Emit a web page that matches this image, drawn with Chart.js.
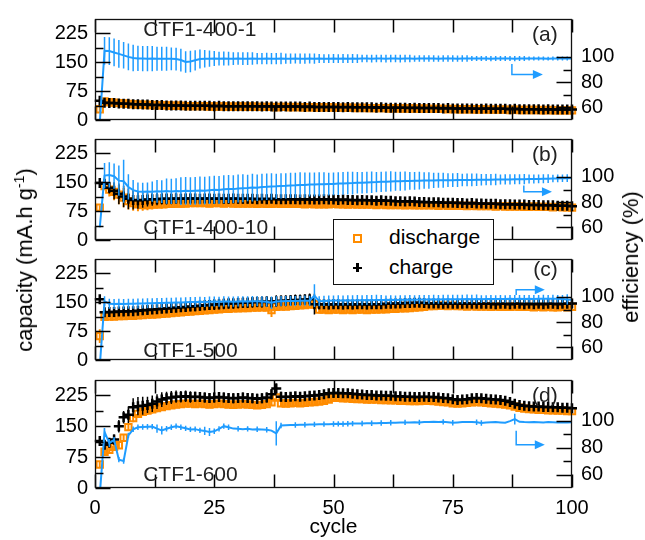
<!DOCTYPE html>
<html><head><meta charset="utf-8">
<script src="https://cdn.jsdelivr.net/npm/chart.js@4.4.0/dist/chart.umd.min.js"></script>
<style>
html,body{margin:0;padding:0;background:#fff;}
#wrap{position:relative;width:645px;height:540px;overflow:hidden;font-family:'Liberation Sans',Arial,sans-serif;}
canvas{position:absolute;left:0;}
.vt{position:absolute;font-size:22px;color:#000;white-space:nowrap;transform:translate(-50%,-50%) rotate(-90deg);line-height:26px;}
.vt sup{font-size:14px;line-height:0;}
#legend{position:absolute;left:333px;top:219px;width:159px;height:64px;border:1px solid #111;background:#fff;z-index:5;}
#legend .lt{position:absolute;left:55px;font-size:21px;line-height:24px;color:#000;}
#legend .sq{position:absolute;left:19px;top:14px;width:9px;height:9px;box-sizing:border-box;border:2px solid #ff8c00;}
#legend .pv{position:absolute;left:22px;top:43px;width:2.5px;height:9px;background:#000;}
#legend .ph{position:absolute;left:18.5px;top:46.5px;width:9px;height:2.5px;background:#000;}
</style></head>
<body><div id="wrap">
<canvas id="ca"></canvas><canvas id="cb"></canvas><canvas id="cc"></canvas><canvas id="cd"></canvas>
<div class="vt" style="left:25px;top:260px">capacity (mA.h g<sup>-1</sup>)</div>
<div class="vt" style="left:631px;top:257px">efficiency (%)</div>
<div id="legend"><div class="sq"></div><div class="lt" style="top:5px">discharge</div><div class="pv"></div><div class="ph"></div><div class="lt" style="top:35px">charge</div></div>
</div>
<script>
const cycles=[1,2,3,4,5,6,7,8,9,10,11,12,13,14,15,16,17,18,19,20,21,22,23,24,25,26,27,28,29,30,31,32,33,34,35,36,37,38,39,40,41,42,43,44,45,46,47,48,49,50,51,52,53,54,55,56,57,58,59,60,61,62,63,64,65,66,67,68,69,70,71,72,73,74,75,76,77,78,79,80,81,82,83,84,85,86,87,88,89,90,91,92,93,94,95,96,97,98,99,100];
const xTicks=[0,25,50,75,100];
const xMinor=[12.5,37.5,62.5,87.5];
const leftTicks=[0,75,150,225];
const leftMinor=[37.5,112.5,187.5];
const rightTicks=[60,80,100];
const rightMinor=[70,90];
const panelNames=['CTF1-400-1','CTF1-400-10','CTF1-500','CTF1-600'];
const panelLetters=['(a)','(b)','(c)','(d)'];

// ---- panel (a) CTF1-400-1 ----
const a_discharge=[28,48,46,45,44,43,42,41,40,40, 39,39,38,38,38,37,37,37,36,36, 36,36,36,35,35,35,35,35,34,35, 35,34,35,34,34,34,34,33,34,34, 33,34,33,33,33,33,32,33,33,32, 32,32,32,32,31,32,31,31,31,31, 31,30,31,30,30,30,30,29,30,29, 29,29,29,28,29,28,28,28,28,27, 28,27,27,27,27,27,26,27,26,26, 26,26,26,25,26,25,25,25,25,25];
const a_dischargeErr=[9,6,6,5,5,5,5,5,5,5, 5,5,5,5,5,4,5,4,5,4, 4,5,4,4,5,4,4,4,5,4, 4,4,5,4,4,4,4,5,4,4, 4,4,4,5,4,4,4,4,4,5, 4,4,4,4,4,5,4,4,4,4, 4,4,5,4,4,4,4,4,5,4, 4,4,4,4,4,4,5,4,4,4, 4,4,4,4,5,4,4,4,4,4, 4,4,4,4,4,4,4,5,4,4];
const a_charge=[50,45,44,44,43,42,42,41,41,40, 40,39,39,39,38,38,38,38,37,37, 37,37,37,37,36,37,36,36,36,36, 36,36,36,36,35,36,35,35,35,35, 35,35,35,34,35,34,34,34,34,34, 34,33,34,33,33,33,33,33,32,33, 32,32,32,32,32,31,32,31,31,31, 31,31,30,31,30,30,30,30,30,29, 29,30,29,29,29,29,28,29,28,28, 28,28,28,27,28,27,27,27,27,27];
const a_chargeErr=[7,6,6,6,6,6,5,5,5,5, 5,6,5,5,5,6,5,5,5,5, 6,5,5,5,5,6,5,5,5,5, 5,6,5,5,5,5,5,6,5,5, 5,5,6,5,5,5,5,5,6,5, 5,5,5,6,5,5,5,5,5,6, 5,5,5,5,6,5,5,5,5,5, 6,5,5,5,5,5,6,5,5,5, 5,6,5,5,5,5,5,6,5,5, 5,5,6,5,5,5,5,5,6,5];
const a_efficiency=[48,104.8,104.6,103.5,102.4,101.2,100,99.1,98.8,98.7, 98.6,98.7,98.6,98.5,98.6,98.5,98.3,97.5,96,96.3, 97.3,98.3,98.5,98.6,98.7,98.6,98.7,98.6,98.6,98.7, 98.6,98.6,98.7,98.6,98.6,98.7,98.6,98.6,98.7,98.6, 98.6,98.7,98.6,98.6,98.7,98.6,98.7,98.6,98.6,98.7, 98.6,98.7,98.6,98.7,98.6,98.7,98.7,98.6,98.7,98.7, 98.6,98.7,98.7,98.6,98.7,98.7,98.6,98.7,98.7,98.7, 98.7,98.6,98.7,98.7,98.7,98.6,98.7,98.7,98.7,98.7, 98.7,98.7,98.6,98.7,98.7,98.7,98.7,98.6,98.7,98.7, 98.7,98.7,98.7,98.7,98.6,98.7,98.7,98.7,98.7,98.7];
const a_efficiencyErr=[0,11,11,11,11,10.5,10.5,10.5,10,10, 10,10,9.5,9.5,9.5,9,9,9,8.5,8.5, 8,7.5,7,6.5,6,5.5,5.5,5.5,5,5, 5,5,5,4.5,4.5,4.5,4.5,4.5,4.5,4, 4,4,4,4,4,4,3.5,3.5,3.5,3.5, 3.5,3.5,3.5,3.5,3.5,3,3,3,3,3, 3,3,3,3,3,3,2.5,2.5,2.5,2.5, 2.5,2.5,2.5,2.5,2.5,2.5,2.5,2.5,2,2, 2,2,2,2,2,2,2,2,2,2, 1.5,1.5,1.5,1.5,1.5,1.5,1.5,1.5,1.5,1.5];

// ---- panel (b) CTF1-400-10 ----
const b_discharge=[84,140,131,125,118,110,101,96,93,91, 91,92,93,93,94,94,95,95,95,96, 96,96,96,95,96,96,95,96,95,95, 95,95,95,94,95,94,94,95,94,94, 94,94,94,93,94,93,93,93,93,94, 93,93,92,93,92,92,92,92,91,92, 91,91,91,91,90,91,90,90,90,90, 90,89,90,89,89,89,89,88,89,88, 88,88,88,87,88,87,87,87,87,86, 86,87,86,86,86,85,86,85,85,84];
const b_dischargeErr=[6,10,18,22,25,25,22,20,18,15, 14,13,12,12,12,11,11,11,10,10, 10,10,10,10,10,10,10,10,10,10, 10,10,10,9,10,9,9,10,9,9, 9,9,9,9,9,9,9,9,8,9, 8,8,8,8,8,8,8,8,8,8, 8,8,8,7,8,7,7,7,7,7, 7,7,7,7,7,7,7,7,7,7, 7,6,7,6,7,6,6,6,6,6, 6,6,6,6,6,6,6,6,6,6];
const b_charge=[148,146,136,128,120,113,107,104,103,104, 105,106,106,107,107,107,108,107,108,108, 108,107,108,108,107,108,107,107,108,107, 107,107,107,106,107,106,107,106,106,106, 106,106,105,106,105,105,105,106,105,105, 104,105,104,104,103,104,103,103,102,103, 102,102,101,101,100,101,100,99,99,98, 98,98,97,97,97,96,96,95,96,95, 95,94,94,94,93,93,93,92,92,92, 91,91,91,90,90,90,89,89,89,88];
const b_chargeErr=[5,8,15,22,27,28,27,25,22,20, 18,17,16,15,15,14,14,13,13,13, 12,12,12,12,12,12,12,12,12,12, 12,12,12,12,11,12,11,11,11,11, 11,11,11,11,11,11,11,10,11,10, 10,10,10,10,10,10,10,10,10,10, 10,10,10,9,10,9,9,9,9,9, 9,9,9,9,9,9,9,9,9,9, 9,8,9,8,9,8,8,8,8,8, 8,8,8,8,8,8,8,8,8,8];
const b_efficiency=[60,101,101.5,100.5,97,96.5,92,89.5,88.5,88.3, 88.5,88.3,88.6,88.4,88.8,88.5,88.9,88.7,89,88.8, 89,89.2,89.1,89.5,89.8,89.7,90.2,90.4,90.3,90.8, 91,91.2,91.5,91.4,92,92.1,92.4,92.5,92.8,92.9, 93.2,93.3,93.6,93.5,93.9,94,94.1,94.2,94.3,94.4, 94.7,94.8,95,95.1,95.3,95.4,95.6,95.8,95.9,96.1, 96.2,96.4,96.5,96.6,96.7,96.8,96.9,97,97.1,97.1, 97.2,97.3,97.3,97.4,97.4,97.5,97.5,97.6,97.6,97.7, 97.7,97.8,97.8,97.9,97.9,98,98,98.1,98.1,98.2, 98.3,98.3,98.4,98.5,98.6,98.7,98.8,98.9,99,99.1];
const b_efficiencyErr=[0,10,10,10,12,17,10,8,7,7, 7,8,9,9,10,10,10,11,11,11, 11,11,11,11,11,11,11,11,11,11, 11,10.5,11,10.5,10.5,10.5,10.5,10,10,10, 10,10,10,10,9.5,9.5,9.5,9.5,9,9, 9,9,9,9,8.5,8.5,8.5,8.5,8,8, 8,8,7.5,7.5,7.5,7,7,7,6.5,6.5, 6,6,6,5.5,5.5,5.5,5,5,5,5, 4.5,4.5,4.5,4.5,4,4,4,4,4,4, 3.5,3.5,3.5,3.5,3.5,3,3,3,3,3];

// ---- panel (c) CTF1-500 ----
const c_discharge=[62,112,113,113,114,114,115,115,116,117, 118,118,119,120,121,122,123,124,125,126, 127,128,129,130,131,132,133,133,134,134, 135,135,136,136,137,136,130,138,139,139, 140,141,142,143,144,145,131,131,130,131, 131,130,131,130,131,131,130,131,131,132, 132,133,133,134,134,135,136,137,138,140, 140,141,141,140,141,140,140,139,140,139, 139,139,138,139,138,138,138,139,138,138, 138,137,138,137,138,137,137,138,137,138];
const c_dischargeErr=[18,6,6,6,6,6,6,6,6,6, 7,7,7,7,7,7,8,8,8,8, 8,8,8,8,8,8,8,8,8,8, 8,8,8,8,8,8,18,8,8,8, 8,8,8,8,8,8,10,8,8,8, 8,8,8,8,8,8,8,8,8,8, 7,7,7,7,7,7,7,7,7,7, 7,7,7,7,7,7,7,7,7,7, 7,7,7,7,7,7,6,7,6,6, 6,6,6,6,6,6,6,6,6,8];
const c_charge=[158,124,125,125,126,126,127,127,128,129, 130,131,132,133,134,135,136,137,138,139, 140,141,142,143,144,145,146,147,147,148, 149,149,150,151,151,152,150,153,154,154, 155,156,156,157,158,145,145,145,144,145, 145,144,145,144,145,145,144,145,145,145, 146,146,147,147,148,148,149,149,148,147, 147,147,146,147,146,146,146,147,146,146, 146,146,146,145,146,146,145,146,146,145, 146,145,146,145,146,146,145,146,146,147];
const c_chargeErr=[8,6,6,6,7,7,7,8,8,8, 9,9,10,10,10,11,11,12,12,12, 13,13,13,13,14,14,14,14,14,14, 14,14,14,14,15,14,14,15,14,14, 14,14,14,14,15,27,13,12,12,12, 12,12,12,12,12,12,12,11,12,11, 11,11,11,11,11,11,11,11,11,11, 10,10,10,10,10,10,10,10,10,10, 10,9,10,9,9,9,9,9,9,9, 9,9,9,9,9,9,9,9,9,12];
const c_efficiency=[45,96.5,94.5,94.3,94.5,94.3,94.6,94.5,94.8,94.7, 95,94.9,95.1,95.2,95.4,95.3,95.6,95.5,95.8,96, 95.9,96.1,96,96.2,96.3,96.1,96.4,96.3,96.2,96.4, 96.5,96.4,96.6,96.5,96.4,96.2,95.3,96.4,96.6,96.7, 96.8,96.7,96.9,97,96.9,101,96.5,96.8,97,97.1, 97.2,97.1,97.3,97.2,97.4,97.3,97.5,97.4,97.6,97.5, 97.6,97.7,97.6,97.8,97.7,97.9,97.8,98,97.9,98, 98.1,98,98.1,98.2,98.1,98.2,98.1,98.3,98.2,98.3, 98.2,98.3,98.4,98.3,98.4,98.3,98.5,98.4,98.5,98.4, 98.5,98.4,98.5,98.6,98.5,98.6,98.5,98.4,98,97.8];
const c_efficiencyErr=[0,4,4,4,4,4,4,4,4,4, 4,4,4,4,4,4,4,4,4,4, 4,4,4,4,4,4,4,4,4,4, 4,4,4,4,4,4,5,4,4,4, 4,4,4,4,4,9,4,4,4,4, 4,4,4,4,4,4,4,4,4,4, 3.5,3.5,3.5,3.5,3.5,3.5,3.5,3.5,3.5,3.5, 3.5,3.5,3.5,3.5,3.5,3.5,3.5,3.5,3.5,3.5, 3,3,3,3,3,3,3,3,3,3, 3,3,3,3,3,3,3,3,4,3];

// ---- panel (d) CTF1-600 ----
const d_discharge=[57,88,93,100,104,122,148,170,180,185, 188,191,194,197,199,201,203,204,205,205, 204,205,204,203,204,205,204,203,202,203, 204,203,202,201,202,204,208,220,206,205, 206,207,206,207,208,209,210,212,215,219, 219,218,218,217,216,216,215,215,215,214, 214,213,213,212,212,211,211,211,212,212, 211,210,209,208,206,205,206,207,208,209, 208,207,206,205,204,203,201,198,195,193, 192,191,190,190,189,189,188,188,187,187];
const d_dischargeErr=[8,8,8,8,8,8,8,10,10,10, 10,10,10,9,9,9,9,8,8,8, 8,8,8,8,8,8,8,8,8,8, 8,8,8,8,8,8,8,8,8,8, 7,7,7,7,7,7,7,7,7,7, 7,7,7,7,7,7,7,7,7,7, 7,7,7,7,7,7,7,7,7,7, 6,6,6,6,6,6,6,6,6,6, 6,6,6,6,6,6,6,6,6,6, 6,6,6,6,6,6,6,6,6,6];
const d_charge=[114,105,110,118,150,172,178,196,199,200, 202,205,210,215,218,220,222,222,223,221, 222,221,220,219,220,221,220,219,218,219, 220,219,218,217,218,220,228,242,222,221, 222,223,222,223,224,225,226,228,230,231, 231,230,230,229,228,227,226,226,225,225, 224,224,223,223,222,222,221,221,222,221, 221,220,219,218,216,214,215,216,218,219, 218,217,216,215,214,212,209,205,202,200, 199,198,198,197,197,196,196,195,195,194];
const d_chargeErr=[10,10,10,12,15,15,20,22,22,22, 20,20,18,18,16,16,15,14,14,14, 12,12,12,12,12,12,12,12,12,12, 12,12,12,12,12,12,12,12,12,12, 10,10,10,10,10,10,10,10,10,10, 10,10,10,10,10,10,10,10,10,10, 9,9,9,9,9,9,9,9,9,9, 8,8,8,8,8,8,8,8,8,8, 8,8,8,8,8,8,8,8,8,8, 7,7,7,7,7,7,7,7,7,7];
const d_efficiency=[45,91.5,83.3,85.7,71,70,89,93.5,95,95.2, 95.4,95.5,94,92.7,93.9,95,95.8,95,94.2,93.4, 93.6,92.7,92.3,91.5,92,93.8,95.8,95,94,93.9, 93.6,93.8,93.4,93.5,93.4,93.2,92.5,90.4,96.3,96.5, 96.6,96.7,96.8,96.9,97,97.1,97.2,97.3,97.3,97.4, 97.5,97.4,97.6,97.7,97.8,97.8,97.9,98,98,98.1, 98.2,98.3,98.4,98.5,98.6,98.5,98.7,98.6,98.8,98.9, 99,98.9,99,98.7,98.3,98.6,98.8,98.9,98.8,98.7, 98.2,98.5,98.7,98.8,98.6,98.4,99.5,101,99,98.8, 98.7,98.8,98.7,98.6,98.8,98.7,98.6,98.7,98.6,98.7];
const d_efficiencyErr=[0,3,3,2,2,2,2,2,2,2, 2,2,3,3,2,2,2,2,2,2, 2,2,3,3,2,2,2,2,0,2, 0,2,0,2,0,2,0,9,2,0, 0,2,0,2,0,2,0,2,0,2, 2,2,2,2,0,2,0,2,0,2, 0,2,0,0,2,0,0,2,0,0, 0,0,2,0,2,0,0,0,0,2, 2,0,0,0,0,0,0,4,0,0, 0,0,0,0,0,0,0,0,0,2];

// annotation arrows (data coordinates: cycle, efficiency)
const arrows=[{x0:87.4,yA:94.4,yB:86,x1:93.9},{x0:89.9,yA:93.1,yB:88.3,x1:95.8},{x0:88.3,yA:101.5,yB:105.7,x1:94.3},{x0:88.3,yA:92.4,yB:82,x1:94.3}];
// label anchors (data coordinates: cycle, capacity)
const nameAnchors=[[10.1,234],[10.1,30],[10.1,22],[10.1,30]];
const letterAnchors=[[97,220],[97,221],[97,233],[97,224]];

const BLUE='#1f9cff', ORANGE='#ff8c00';
const panelData=[
 [a_discharge,a_dischargeErr,a_charge,a_chargeErr,a_efficiency,a_efficiencyErr],
 [b_discharge,b_dischargeErr,b_charge,b_chargeErr,b_efficiency,b_efficiencyErr],
 [c_discharge,c_dischargeErr,c_charge,c_chargeErr,c_efficiency,c_efficiencyErr],
 [d_discharge,d_dischargeErr,d_charge,d_chargeErr,d_efficiency,d_efficiencyErr]
];
const tops=[12,132,252,373];
const H=115, PAD=14;

Chart.defaults.font.family="'Liberation Sans', Arial, sans-serif";
Chart.defaults.color='#000';

function seg(ctx,x0,y0,x1,y1){ctx.beginPath();ctx.moveTo(x0,y0);ctx.lineTo(x1,y1);ctx.stroke();}

const deco={
 id:'deco',
 beforeDatasetDraw(chart,args){
  const ds=chart.data.datasets[args.index];
  if(!ds.errors) return;
  const xs=chart.scales.x, ys=chart.scales[ds.yAxisID], ctx=chart.ctx, a=chart.chartArea;
  ctx.save();
  if(ds.clipErr){ctx.beginPath();ctx.rect(a.left,a.top,a.right-a.left,a.bottom-a.top);ctx.clip();}
  ctx.strokeStyle=ds.errColor; ctx.lineWidth=ds.errWidth;
  ctx.beginPath();
  ds.data.forEach((p,i)=>{const e=ds.errors[i]; if(!e) return; const x=xs.getPixelForValue(p.x);
   ctx.moveTo(x,ys.getPixelForValue(p.y+e)); ctx.lineTo(x,ys.getPixelForValue(p.y-e));});
  ctx.stroke(); ctx.restore();
 },
 afterDatasetsDraw(chart,args,o){
  const ctx=chart.ctx, a=chart.chartArea, xs=chart.scales.x, yl=chart.scales.y, yr=chart.scales.y2;
  const L=Math.round(a.left)+0.5, R=Math.round(a.right)-0.5, T=Math.round(a.top)+0.5, B=Math.round(a.bottom)-0.5;
  ctx.save();
  ctx.strokeStyle='#000'; ctx.lineWidth=1.5; ctx.lineCap='butt';
  xTicks.concat(xMinor).forEach(v=>{const x=Math.round(xs.getPixelForValue(v))+0.5; seg(ctx,x,B,x,B-13); seg(ctx,x,T,x,T+13);});
  leftTicks.forEach(v=>{const y=Math.round(yl.getPixelForValue(v))+0.5; seg(ctx,L,y,L+15,y);});
  leftMinor.forEach(v=>{const y=Math.round(yl.getPixelForValue(v))+0.5; seg(ctx,L,y,L+8,y);});
  rightTicks.forEach(v=>{const y=Math.round(yr.getPixelForValue(v))+0.5; seg(ctx,R,y,R-15,y);});
  rightMinor.forEach(v=>{const y=Math.round(yr.getPixelForValue(v))+0.5; seg(ctx,R,y,R-8,y);});
  ctx.lineWidth=1.3; ctx.strokeStyle='#111';
  ctx.strokeRect(L,T,R-L,B-T);
  ctx.fillStyle='#222'; ctx.font="21px 'Liberation Sans', Arial, sans-serif"; ctx.textBaseline='middle';
  ctx.textAlign='left';
  ctx.fillText(o.name, xs.getPixelForValue(o.nameAt[0]), yl.getPixelForValue(o.nameAt[1]));
  ctx.textAlign='right';
  ctx.fillText(o.letter, xs.getPixelForValue(o.letterAt[0]), yl.getPixelForValue(o.letterAt[1]));
  const ar=o.arrow; ctx.strokeStyle=BLUE; ctx.fillStyle=BLUE; ctx.lineWidth=1.5;
  const x0=xs.getPixelForValue(ar.x0), yA=yr.getPixelForValue(ar.yA), yB=yr.getPixelForValue(ar.yB), x1=xs.getPixelForValue(ar.x1);
  ctx.beginPath(); ctx.moveTo(x0,yA); ctx.lineTo(x0,yB); ctx.lineTo(x1-9,yB); ctx.stroke();
  ctx.beginPath(); ctx.moveTo(x1,yB); ctx.lineTo(x1-10,yB-4.5); ctx.lineTo(x1-10,yB+4.5); ctx.closePath(); ctx.fill();
  ctx.restore();
 }
};

const ids=['ca','cb','cc','cd'];
ids.forEach((id,k)=>{
 const last=k===3;
 const cv=document.getElementById(id);
 const top=tops[k]-PAD;
 const h=last?540-top:H+2*PAD;
 cv.width=645; cv.height=h; cv.style.top=top+'px'; cv.style.width='645px'; cv.style.height=h+'px';
 const [dis,disE,ch,chE,eff,effE]=panelData[k];
 const pts=v=>cycles.map((c,i)=>({x:c,y:v[i]}));
 new Chart(cv,{
  type:'line',
  data:{datasets:[
   {label:'efficiency',yAxisID:'y2',data:pts(eff),errors:effE,errColor:BLUE,errWidth:1.5,clipErr:true,borderColor:BLUE,borderWidth:2,pointRadius:0,tension:0,fill:false},
   {label:'charge',yAxisID:'y',data:pts(ch),errors:chE,errColor:'#000',errWidth:1.5,showLine:false,pointStyle:'cross',pointRadius:5,pointBorderWidth:2.5,borderColor:'#000',pointBorderColor:'#000',clip:false},
   {label:'discharge',yAxisID:'y',data:pts(dis),errors:disE,errColor:ORANGE,errWidth:2,showLine:false,pointStyle:'rect',pointRadius:4.5,pointBorderWidth:2,borderColor:ORANGE,pointBorderColor:ORANGE,pointBackgroundColor:'rgba(0,0,0,0)',clip:false}
  ]},
  options:{
   responsive:false,animation:false,events:[],
   layout:{padding:{top:PAD,bottom:last?0:PAD,left:0,right:0}},
   plugins:{legend:{display:false},tooltip:{enabled:false},
    deco:{name:panelNames[k],letter:panelLetters[k],nameAt:nameAnchors[k],letterAt:letterAnchors[k],arrow:arrows[k]}},
   scales:{
    x:{type:'linear',min:0,max:100,display:last,position:'bottom',
     grid:{display:false,drawTicks:false},border:{display:false},
     afterBuildTicks:s=>{s.ticks=xTicks.map(v=>({value:v}));},
     ticks:{padding:8,font:{size:20},color:'#000',maxRotation:0,autoSkip:false},
     title:{display:last,text:'cycle',font:{size:21},color:'#000',padding:{top:0,bottom:0}},
     afterFit:s=>{s.height=last?52:0;}},
    y:{position:'left',min:0,max:262.5,grid:{display:false,drawTicks:false},border:{display:false},
     afterBuildTicks:s=>{s.ticks=leftTicks.map(v=>({value:v}));},
     ticks:{padding:7,font:{size:20},color:'#000',autoSkip:false},
     afterFit:s=>{s.width=95;}},
    y2:{position:'right',min:50,max:130,grid:{display:false,drawTicks:false},border:{display:false},
     afterBuildTicks:s=>{s.ticks=rightTicks.map(v=>({value:v}));},
     ticks:{padding:9,font:{size:20},color:'#000',autoSkip:false},
     afterFit:s=>{s.width=73;}}
   }
  },
  plugins:[deco]
 });
});
</script>
</body></html>
